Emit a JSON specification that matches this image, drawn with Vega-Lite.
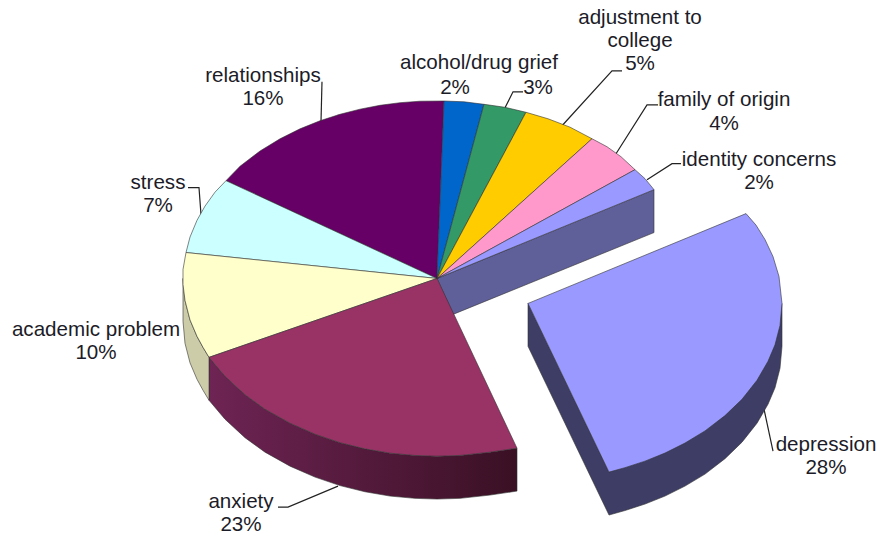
{"$schema":"https://vega.github.io/schema/vega-lite/v6.json","width":881,"height":536,"autosize":{"type":"fit","contains":"padding"},"padding":0,"background":"white","config":{"view":{"stroke":null}},
"datasets":{
"anxietySide":[
{"i":1,"px":209,"py":358},{"i":2,"px":225,"py":377},{"i":3,"px":245,"py":395.5},{"i":4,"px":265,"py":410},{"i":5,"px":290,"py":424},{"i":6,"px":315,"py":435},{"i":7,"px":340,"py":443.5},{"i":8,"px":365,"py":449.7},{"i":9,"px":390,"py":454},{"i":10,"px":415,"py":456.3},{"i":11,"px":437,"py":457},{"i":12,"px":460,"py":456.3},{"i":13,"px":490,"py":453},{"i":14,"px":517,"py":449},{"i":15,"px":517,"py":492},{"i":16,"px":490,"py":496},{"i":17,"px":460,"py":499.3},{"i":18,"px":437,"py":500},{"i":19,"px":415,"py":499.3},{"i":20,"px":390,"py":497},{"i":21,"px":365,"py":492.7},{"i":22,"px":340,"py":486.5},{"i":23,"px":315,"py":478},{"i":24,"px":290,"py":467},{"i":25,"px":265,"py":453},{"i":26,"px":245,"py":438.5},{"i":27,"px":225,"py":420},{"i":28,"px":209,"py":401},{"i":29,"px":209,"py":358}],
"shapes":[
{"piece":"identity side","i":1,"px":437,"py":279},{"piece":"identity side","i":2,"px":654,"py":190},{"piece":"identity side","i":3,"px":654,"py":233},{"piece":"identity side","i":4,"px":453,"py":315},{"piece":"identity side","i":5,"px":437,"py":279},
{"piece":"academic side","i":1,"px":183,"py":279},{"piece":"academic side","i":2,"px":185,"py":301},{"piece":"academic side","i":3,"px":190,"py":320.5},{"piece":"academic side","i":4,"px":197,"py":337},{"piece":"academic side","i":5,"px":203,"py":348},{"piece":"academic side","i":6,"px":209,"py":358},{"piece":"academic side","i":7,"px":209,"py":401},{"piece":"academic side","i":8,"px":203,"py":391},{"piece":"academic side","i":9,"px":197,"py":380},{"piece":"academic side","i":10,"px":190,"py":363.5},{"piece":"academic side","i":11,"px":185,"py":344},{"piece":"academic side","i":12,"px":183,"py":322},{"piece":"academic side","i":13,"px":183,"py":279},
{"piece":"depression side","i":1,"px":528,"py":304},{"piece":"depression side","i":2,"px":609,"py":473},{"piece":"depression side","i":3,"px":782,"py":304},{"piece":"depression side","i":4,"px":782,"py":347},{"piece":"depression side","i":5,"px":780,"py":369},{"piece":"depression side","i":6,"px":775,"py":388.5},{"piece":"depression side","i":7,"px":768,"py":405},{"piece":"depression side","i":8,"px":757,"py":424},{"piece":"depression side","i":9,"px":742,"py":443},{"piece":"depression side","i":10,"px":725,"py":459.5},{"piece":"depression side","i":11,"px":705,"py":475},{"piece":"depression side","i":12,"px":685,"py":487},{"piece":"depression side","i":13,"px":665,"py":497},{"piece":"depression side","i":14,"px":645,"py":505},{"piece":"depression side","i":15,"px":625,"py":511.5},{"piece":"depression side","i":16,"px":609,"py":516},{"piece":"depression side","i":17,"px":528,"py":347},{"piece":"depression side","i":18,"px":528,"py":304},
{"piece":"relationships","i":1,"px":437,"py":279},{"piece":"relationships","i":2,"px":226,"py":181},{"piece":"relationships","i":3,"px":240,"py":166.6},{"piece":"relationships","i":4,"px":260,"py":151.3},{"piece":"relationships","i":5,"px":280,"py":139.1},{"piece":"relationships","i":6,"px":300,"py":129.1},{"piece":"relationships","i":7,"px":320,"py":121},{"piece":"relationships","i":8,"px":340,"py":114.5},{"piece":"relationships","i":9,"px":360,"py":109.4},{"piece":"relationships","i":10,"px":380,"py":105.5},{"piece":"relationships","i":11,"px":400,"py":102.9},{"piece":"relationships","i":12,"px":420,"py":101.4},{"piece":"relationships","i":13,"px":444,"py":101.2},{"piece":"relationships","i":14,"px":437,"py":279},
{"piece":"alcohol/drug","i":1,"px":437,"py":279},{"piece":"alcohol/drug","i":2,"px":444,"py":101.2},{"piece":"alcohol/drug","i":3,"px":464,"py":102},{"piece":"alcohol/drug","i":4,"px":484,"py":104.5},{"piece":"alcohol/drug","i":5,"px":437,"py":279},
{"piece":"grief","i":1,"px":437,"py":279},{"piece":"grief","i":2,"px":484,"py":104.5},{"piece":"grief","i":3,"px":505,"py":107.5},{"piece":"grief","i":4,"px":526,"py":112.5},{"piece":"grief","i":5,"px":437,"py":279},
{"piece":"adjustment to college","i":1,"px":437,"py":279},{"piece":"adjustment to college","i":2,"px":526,"py":112.5},{"piece":"adjustment to college","i":3,"px":548,"py":119},{"piece":"adjustment to college","i":4,"px":570,"py":127.4},{"piece":"adjustment to college","i":5,"px":592,"py":139},{"piece":"adjustment to college","i":6,"px":437,"py":279},
{"piece":"family of origin","i":1,"px":437,"py":279},{"piece":"family of origin","i":2,"px":592,"py":139},{"piece":"family of origin","i":3,"px":607,"py":147},{"piece":"family of origin","i":4,"px":621,"py":157},{"piece":"family of origin","i":5,"px":635,"py":170},{"piece":"family of origin","i":6,"px":437,"py":279},
{"piece":"identity concerns","i":1,"px":437,"py":279},{"piece":"identity concerns","i":2,"px":635,"py":170},{"piece":"identity concerns","i":3,"px":645,"py":179},{"piece":"identity concerns","i":4,"px":654,"py":190},{"piece":"identity concerns","i":5,"px":437,"py":279},
{"piece":"stress","i":1,"px":437,"py":279},{"piece":"stress","i":2,"px":186,"py":253},{"piece":"stress","i":3,"px":190,"py":237.5},{"piece":"stress","i":4,"px":197,"py":220.7},{"piece":"stress","i":5,"px":205,"py":206.5},{"piece":"stress","i":6,"px":215,"py":192.5},{"piece":"stress","i":7,"px":226,"py":181},{"piece":"stress","i":8,"px":437,"py":279},
{"piece":"academic problem","i":1,"px":437,"py":279},{"piece":"academic problem","i":2,"px":186,"py":253},{"piece":"academic problem","i":3,"px":183,"py":270},{"piece":"academic problem","i":4,"px":183,"py":285},{"piece":"academic problem","i":5,"px":185,"py":301},{"piece":"academic problem","i":6,"px":190,"py":320.5},{"piece":"academic problem","i":7,"px":197,"py":337},{"piece":"academic problem","i":8,"px":203,"py":348},{"piece":"academic problem","i":9,"px":209,"py":358},{"piece":"academic problem","i":10,"px":437,"py":279},
{"piece":"anxiety","i":1,"px":437,"py":279},{"piece":"anxiety","i":2,"px":209,"py":358},{"piece":"anxiety","i":3,"px":225,"py":377},{"piece":"anxiety","i":4,"px":245,"py":395.5},{"piece":"anxiety","i":5,"px":265,"py":410},{"piece":"anxiety","i":6,"px":290,"py":424},{"piece":"anxiety","i":7,"px":315,"py":435},{"piece":"anxiety","i":8,"px":340,"py":443.5},{"piece":"anxiety","i":9,"px":365,"py":449.7},{"piece":"anxiety","i":10,"px":390,"py":454},{"piece":"anxiety","i":11,"px":415,"py":456.3},{"piece":"anxiety","i":12,"px":437,"py":457},{"piece":"anxiety","i":13,"px":460,"py":456.3},{"piece":"anxiety","i":14,"px":490,"py":453},{"piece":"anxiety","i":15,"px":517,"py":449},{"piece":"anxiety","i":16,"px":437,"py":279},
{"piece":"depression","i":1,"px":528,"py":304},{"piece":"depression","i":2,"px":746,"py":214},{"piece":"depression","i":3,"px":756,"py":225.5},{"piece":"depression","i":4,"px":765,"py":240},{"piece":"depression","i":5,"px":773,"py":257},{"piece":"depression","i":6,"px":779,"py":277},{"piece":"depression","i":7,"px":782,"py":304},{"piece":"depression","i":8,"px":780,"py":326},{"piece":"depression","i":9,"px":775,"py":345.5},{"piece":"depression","i":10,"px":768,"py":362},{"piece":"depression","i":11,"px":757,"py":381},{"piece":"depression","i":12,"px":742,"py":400},{"piece":"depression","i":13,"px":725,"py":416.4},{"piece":"depression","i":14,"px":705,"py":431.7},{"piece":"depression","i":15,"px":685,"py":443.9},{"piece":"depression","i":16,"px":665,"py":453.9},{"piece":"depression","i":17,"px":645,"py":462},{"piece":"depression","i":18,"px":625,"py":468.5},{"piece":"depression","i":19,"px":609,"py":473},{"piece":"depression","i":20,"px":528,"py":304}],
"leaders":[
{"k":"grief","i":1,"px":505,"py":108},{"k":"grief","i":2,"px":513,"py":92},{"k":"grief","i":3,"px":523,"py":92},
{"k":"adjustment","i":1,"px":562,"py":126},{"k":"adjustment","i":2,"px":612,"py":71},{"k":"adjustment","i":3,"px":622,"py":71},
{"k":"family","i":1,"px":616,"py":154},{"k":"family","i":2,"px":647,"py":105},{"k":"family","i":3,"px":658,"py":105},
{"k":"identity","i":1,"px":647,"py":180},{"k":"identity","i":2,"px":672,"py":164},{"k":"identity","i":3,"px":681,"py":164},
{"k":"relationships","i":1,"px":321,"py":122},{"k":"relationships","i":2,"px":322,"py":82},
{"k":"stress","i":1,"px":201,"py":215},{"k":"stress","i":2,"px":199,"py":188},{"k":"stress","i":3,"px":188,"py":188},
{"k":"anxiety","i":1,"px":338,"py":487},{"k":"anxiety","i":2,"px":288,"py":508},{"k":"anxiety","i":3,"px":278,"py":508},
{"k":"depression","i":1,"px":764,"py":410},{"k":"depression","i":2,"px":773,"py":452}],
"labels":[
{"t":"relationships","px":263,"py":76},{"t":"16%","px":263,"py":99},
{"t":"alcohol/drug grief","px":479,"py":63},{"t":"2%","px":455,"py":88},{"t":"3%","px":538,"py":88},
{"t":"adjustment to","px":640,"py":18},{"t":"college","px":640,"py":41},{"t":"5%","px":640,"py":64},
{"t":"family of origin","px":724,"py":100},{"t":"4%","px":724,"py":124},
{"t":"identity concerns","px":759,"py":160},{"t":"2%","px":759,"py":183},
{"t":"stress","px":158,"py":183},{"t":"7%","px":158,"py":206},
{"t":"academic problem","px":96,"py":331},{"t":"10%","px":96,"py":354},
{"t":"anxiety","px":241,"py":503},{"t":"23%","px":241,"py":526},
{"t":"depression","px":826,"py":446},{"t":"28%","px":826,"py":469}]},
"encoding":{"x":{"field":"px","type":"quantitative","scale":{"domain":[0,881],"nice":false,"zero":false},"axis":null},"y":{"field":"py","type":"quantitative","scale":{"domain":[536,0],"nice":false,"zero":false},"axis":null}},
"layer":[
{"data":{"name":"leaders"},"mark":{"type":"line","stroke":"#222222","strokeWidth":1.2},"encoding":{"detail":{"field":"k"},"order":{"field":"i","type":"quantitative"}}},
{"data":{"name":"anxietySide"},"mark":{"type":"line","strokeWidth":0.6,"stroke":"#333333","fill":{"gradient":"linear","x1":0,"y1":0,"x2":1,"y2":0,"stops":[{"offset":0,"color":"#6e2454"},{"offset":1,"color":"#3a1024"}]}},"encoding":{"order":{"field":"i","type":"quantitative"}}},
{"data":{"name":"shapes"},"mark":{"type":"line","filled":true,"stroke":"#333333","strokeWidth":0.6},"encoding":{"detail":{"field":"piece"},"order":{"field":"i","type":"quantitative"},"fill":{"field":"piece","type":"nominal","legend":null,"scale":{"domain":["identity side","academic side","depression side","relationships","alcohol/drug","grief","adjustment to college","family of origin","identity concerns","stress","academic problem","anxiety","depression"],"range":["#5f5f99","#cccca8","#3d3d66","#660066","#0066cc","#339966","#ffcc00","#ff99cc","#9999ff","#ccffff","#ffffcc","#993366","#9999ff"]}}}},
{"data":{"name":"labels"},"mark":{"type":"text","font":"Liberation Sans","fontSize":20.6,"color":"#1c1c28","align":"center","baseline":"middle"},"encoding":{"text":{"field":"t"}}}
]}
